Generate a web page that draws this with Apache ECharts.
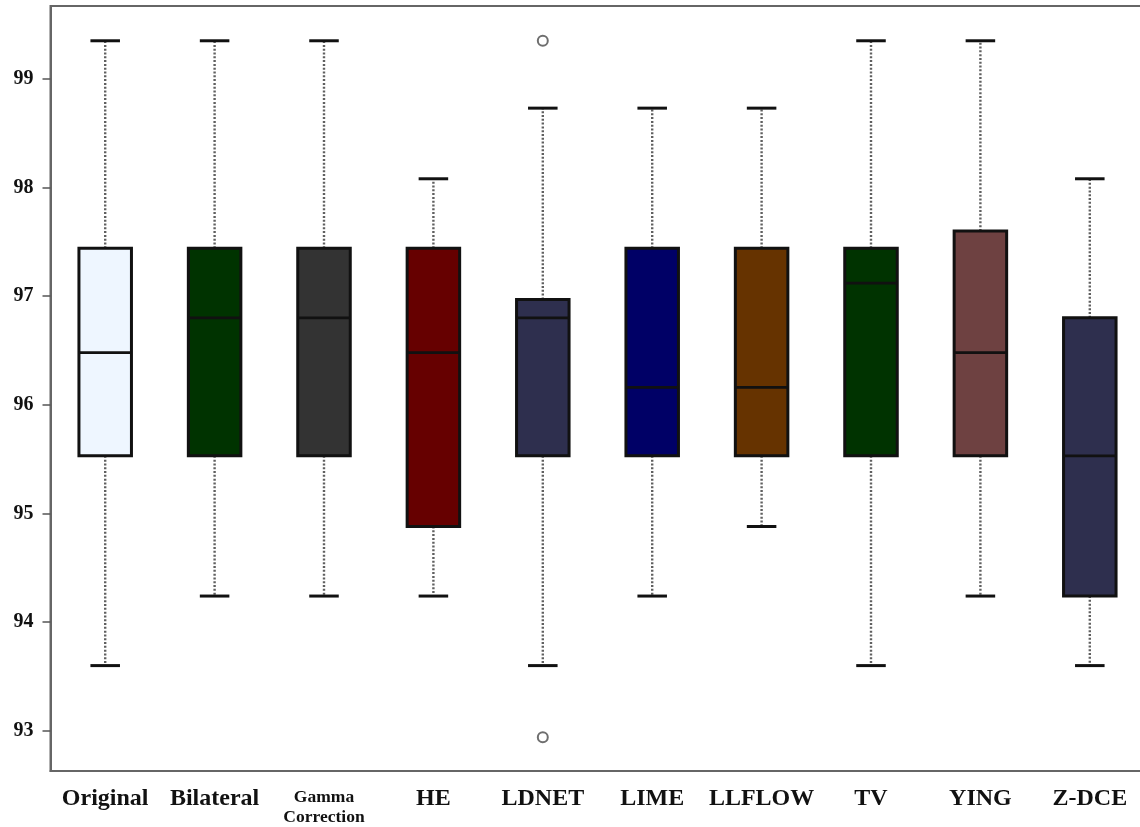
<!DOCTYPE html>
<html>
<head>
<meta charset="utf-8">
<script src="https://cdn.jsdelivr.net/npm/echarts@6/dist/echarts.min.js"></script>
<style>
html,body{margin:0;padding:0;background:#fff;overflow:hidden;}
#chart{width:1146px;height:827px;}
</style>
</head>
<body>
<div id="chart"></div>
<script>
var categories = ['Original','Bilateral','Gamma Correction','HE','LDNET','LIME','LLFLOW','TV','YING','Z-DCE'];
var whiskerLow  = [93.60, 94.24, 94.24, 94.24, 93.60, 94.24, 94.88, 93.60, 94.24, 93.60];
var q1Values    = [95.53, 95.53, 95.53, 94.88, 95.53, 95.53, 95.53, 95.53, 95.53, 94.24];
var medianValues= [96.48, 96.80, 96.80, 96.48, 96.80, 96.16, 96.16, 97.12, 96.48, 95.53];
var q3Values    = [97.44, 97.44, 97.44, 97.44, 96.97, 97.44, 97.44, 97.44, 97.60, 96.80];
var whiskerHigh = [99.35, 99.35, 99.35, 98.08, 98.73, 98.73, 98.73, 99.35, 99.35, 98.08];
var boxColors   = ['#EEF6FF','#003300','#333333','#660000','#2E2F4E','#000066','#663300','#003300','#6E4141','#2E2F4E'];
var outlierCats = ['LDNET','LDNET'];
var outlierVals = [99.35, 92.94];
var yTicks = [93, 94, 95, 96, 97, 98, 99];

var boxData = categories.map(function (c, i) {
  return [i, whiskerLow[i], q1Values[i], medianValues[i], q3Values[i], whiskerHigh[i]];
});
var outlierData = outlierCats.map(function (c, i) {
  return [categories.indexOf(c), outlierVals[i]];
});

function renderBox(params, api) {
  var idx = api.value(0);
  var band = api.size([1, 0])[0];
  var pLow = api.coord([idx, api.value(1)]);
  var pQ1 = api.coord([idx, api.value(2)]);
  var pMed = api.coord([idx, api.value(3)]);
  var pQ3 = api.coord([idx, api.value(4)]);
  var pHigh = api.coord([idx, api.value(5)]);
  var x = pMed[0];
  var bw = band * 0.48;
  var cw = band * 0.27;
  var dotted = {stroke: '#606060', lineWidth: 2.4, lineDash: [2, 1.8]};
  var capStyle = {stroke: '#111', lineWidth: 3};
  return {
    type: 'group',
    children: [
      {type: 'line', shape: {x1: x, y1: pQ3[1], x2: x, y2: pHigh[1]}, style: dotted},
      {type: 'line', shape: {x1: x, y1: pQ1[1], x2: x, y2: pLow[1]}, style: dotted},
      {type: 'line', shape: {x1: x - cw / 2, y1: pHigh[1], x2: x + cw / 2, y2: pHigh[1]}, style: capStyle},
      {type: 'line', shape: {x1: x - cw / 2, y1: pLow[1], x2: x + cw / 2, y2: pLow[1]}, style: capStyle},
      {type: 'rect', shape: {x: x - bw / 2, y: pQ3[1], width: bw, height: pQ1[1] - pQ3[1]},
        style: {fill: boxColors[idx], stroke: '#111', lineWidth: 3}},
      {type: 'line', shape: {x1: x - bw / 2, y1: pMed[1], x2: x + bw / 2, y2: pMed[1]},
        style: {stroke: '#111', lineWidth: 2.6}}
    ]
  };
}

var chart = echarts.init(document.getElementById('chart'), null, {renderer: 'canvas'});
chart.setOption({
  animation: false,
  backgroundColor: '#fff',
  grid: {
    left: 50.5, right: 1.5, top: 6, bottom: 56,
    show: true, borderColor: '#666', borderWidth: 2, backgroundColor: 'transparent'
  },
  xAxis: {
    type: 'category',
    data: categories,
    boundaryGap: true,
    axisLine: {lineStyle: {color: '#666', width: 2}},
    axisTick: {alignWithLabel: true, length: 6, lineStyle: {color: '#555', width: 1.5}},
    axisLabel: {
      interval: 0,
      margin: 16,
      color: '#111',
      fontFamily: 'Liberation Serif',
      fontWeight: 'bold',
      fontSize: 24,
      lineHeight: 24,
      formatter: function (v) {
        if (v === 'Gamma Correction') return '{s|Gamma}\n{s|Correction}';
        return v;
      },
      rich: {
        s: {fontFamily: 'Liberation Serif', fontWeight: 'bold', fontSize: 17.5, lineHeight: 20, color: '#111'}
      }
    },
    splitLine: {show: false}
  },
  yAxis: {
    type: 'value',
    min: 92.63,
    max: 99.67,
    axisLine: {show: true, lineStyle: {color: '#666', width: 2}},
    axisTick: {show: true, length: 8, customValues: yTicks, lineStyle: {color: '#555', width: 1.5}},
    axisLabel: {
      customValues: yTicks,
      margin: 17,
      color: '#111',
      fontFamily: 'Liberation Serif',
      fontWeight: 'bold',
      fontSize: 20
    },
    splitLine: {show: false}
  },
  series: [
    {
      type: 'custom',
      renderItem: renderBox,
      encode: {x: 0, y: [1, 2, 3, 4, 5]},
      data: boxData,
      z: 2
    },
    {
      type: 'scatter',
      data: outlierData,
      symbol: 'circle',
      symbolSize: 10,
      itemStyle: {color: '#fff', borderColor: '#4a4a4a', borderWidth: 2},
      z: 3
    }
  ]
});
</script>
</body>
</html>
